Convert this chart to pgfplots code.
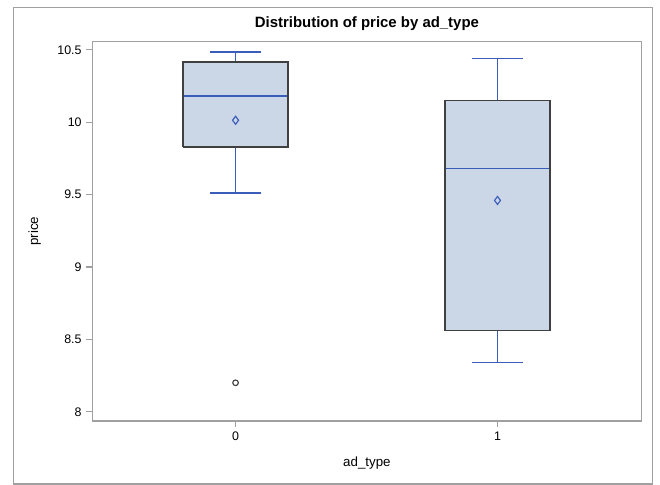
\documentclass[border=0pt]{standalone}
\usepackage{fontspec}
\setmainfont{Liberation Sans}
\usepackage{pgfplots}
\pgfplotsset{compat=1.18}
\definecolor{boxfill}{RGB}{203,214,230}
\definecolor{boxline}{RGB}{58,92,186}
\definecolor{frame}{RGB}{160,160,160}
\definecolor{edge}{RGB}{64,64,64}
\begin{document}
\begin{tikzpicture}
\useasboundingbox (0pt,0pt) rectangle (495pt,363.75pt);
\fill[white] (0pt,0pt) rectangle (495pt,363.75pt);
\draw[frame,line width=0.9pt] (10.1pt,0.8pt) rectangle (489.4pt,358.1pt);
\begin{axis}[
  at={(69.2pt,48pt)}, anchor=south west,
  scale only axis, width=412pt, height=284.5pt,
  xmin=-0.547, xmax=1.55,
  ymin=7.936, ymax=10.557,
  xtick={0,1}, ytick={8,8.5,9,9.5,10,10.5},
  yticklabels={8,8.5,9,9.5,10,10.5},
  xticklabels={0,1},
  tick align=outside, xtick pos=bottom, ytick pos=left,
  major tick length=4.5pt,
  tick style={frame, line width=0.8pt},
  axis line style={frame, line width=1pt},
  tick label style={font=\fontsize{9.3}{10}\selectfont},
  xlabel={ad\_type}, ylabel={price},
  every axis x label/.style={at={(axis description cs:0.5,0)}, anchor=center, yshift=-31.5pt, font=\fontsize{10}{11}\selectfont},
  every axis y label/.style={at={(axis description cs:-0.105,0.5)}, anchor=center, rotate=90, font=\fontsize{10}{11}\selectfont},
  title={\bfseries Distribution of price by ad\_type},
  every axis title/.style={at={(axis description cs:0.5,1)}, anchor=center, yshift=13.3pt, font=\fontsize{11.2}{12}\selectfont},
  clip=false,
]
% boxes (fill)
\addplot[draw=none, fill=boxfill] coordinates {(-0.2,9.83) (0.2,9.83) (0.2,10.415) (-0.2,10.415)} -- cycle;
\addplot[draw=none, fill=boxfill] coordinates {(0.8,8.56) (1.2,8.56) (1.2,10.15) (0.8,10.15)} -- cycle;
% whiskers group 0
\addplot[draw=boxline, line width=1.2pt] coordinates {(0,9.83) (0,9.51)};
\addplot[draw=boxline, line width=1.2pt] coordinates {(-0.098,9.51) (0.098,9.51)};
\addplot[draw=boxline, line width=1.2pt] coordinates {(0,10.415) (0,10.486)};
\addplot[draw=boxline, line width=1.2pt] coordinates {(-0.098,10.486) (0.098,10.486)};
% whiskers group 1
\addplot[draw=boxline, line width=1.2pt] coordinates {(1,8.56) (1,8.34)};
\addplot[draw=boxline, line width=1.2pt] coordinates {(0.902,8.34) (1.098,8.34)};
\addplot[draw=boxline, line width=1.2pt] coordinates {(1,10.15) (1,10.44)};
\addplot[draw=boxline, line width=1.2pt] coordinates {(0.902,10.44) (1.098,10.44)};
% medians
\addplot[draw=boxline, line width=1.2pt] coordinates {(-0.2,10.18) (0.2,10.18)};
\addplot[draw=boxline, line width=1.2pt] coordinates {(0.8,9.68) (1.2,9.68)};
% box outlines on top
\addplot[draw=edge, line width=1.2pt] coordinates {(-0.2,9.83) (0.2,9.83) (0.2,10.415) (-0.2,10.415) (-0.2,9.83)};
\addplot[draw=edge, line width=1.2pt] coordinates {(0.8,8.56) (1.2,8.56) (1.2,10.15) (0.8,10.15) (0.8,8.56)};
% means
\addplot[only marks, mark=diamond, mark size=3pt, mark options={draw=boxline, fill=none, line width=0.85pt}]
  coordinates {(0,10.014) (1,9.46)};
% outlier
\addplot[only marks, mark=o, mark size=2.1pt, mark options={draw=edge, line width=0.85pt}]
  coordinates {(0,8.20)};
\end{axis}
\end{tikzpicture}
\end{document}
